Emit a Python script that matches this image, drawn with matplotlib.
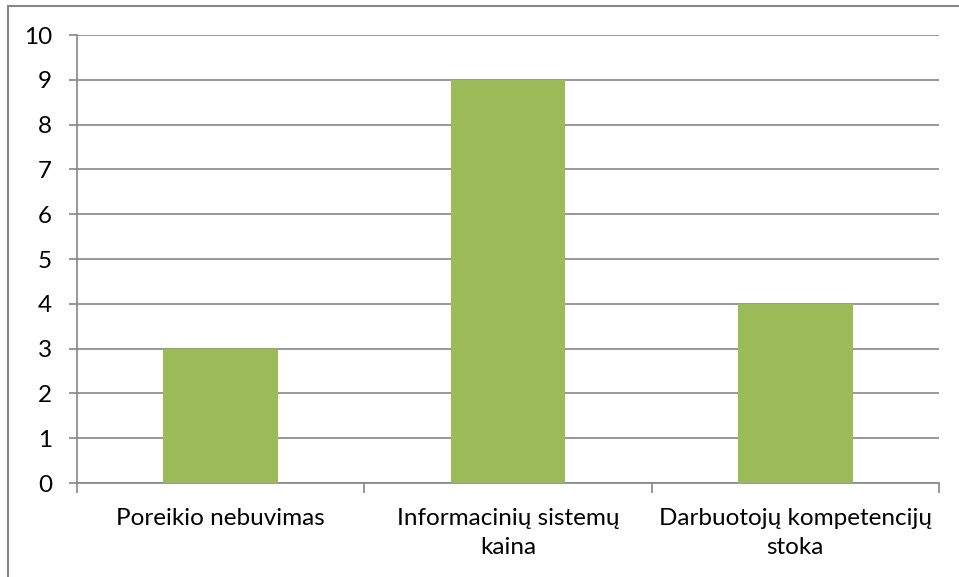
import matplotlib.pyplot as plt
from matplotlib.patches import Rectangle

categories = ["Poreikio nebuvimas", "Informacinių sistemų\nkaina", "Darbuotojų kompetencijų\nstoka"]
values = [3, 9, 4]
yticks = list(range(0, 11))

plt.rcParams['font.family'] = ['Lato', 'DejaVu Sans']
grey = "#868686"

fig = plt.figure(figsize=(9.59, 5.77), dpi=100)
ax = fig.add_axes([77/959, 1-483/577, (939-77)/959, (483-35)/577])

x = list(range(len(categories)))
ax.bar(x, values, width=0.4, color="#9BBB59", zorder=3)

ax.set_xlim(-0.5, len(categories)-0.5)
ax.set_ylim(0, 10)
ax.set_yticks(yticks)
ax.set_yticklabels([str(t) for t in yticks], fontsize=17.5)
ax.yaxis.grid(True, color=grey, linewidth=1.2, zorder=0)
ax.tick_params(axis='y', length=6, width=1.2, color=grey, pad=12, labelcolor="black")

# category separators as ticks on the x axis
ax.set_xticks([i - 0.5 for i in range(len(categories)+1)], minor=False)
ax.set_xticklabels([])
ax.tick_params(axis='x', which='major', length=7, width=1.2, color=grey)
ax.set_xticks(x, minor=True)
ax.set_xticklabels(categories, minor=True, fontsize=17.5, linespacing=1.45)
ax.tick_params(axis='x', which='minor', length=0, pad=18)

for s in ["top", "right"]:
    ax.spines[s].set_visible(False)
for s in ["left", "bottom"]:
    ax.spines[s].set_color(grey)
    ax.spines[s].set_linewidth(1.2)

# chart area outline
fig.patches.append(Rectangle((8/959, -0.1), 1.2, 1.1 - 6/577, transform=fig.transFigure,
                             fill=False, edgecolor=grey, linewidth=1.5))

fig.savefig("out.png", dpi=100)
